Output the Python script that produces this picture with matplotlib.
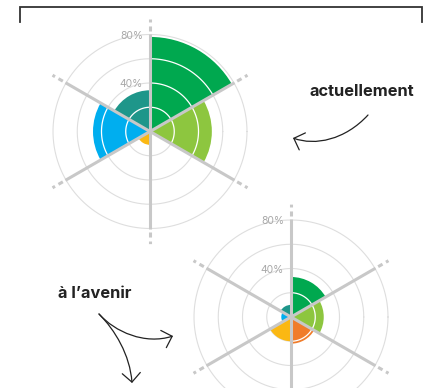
import numpy as np
import matplotlib
matplotlib.use("Agg")
import matplotlib.pyplot as plt
from matplotlib.patches import FancyArrowPatch
from matplotlib.path import Path

W, H = 430, 388

# six sectors, 60 degrees each (centre angle, counter-clockwise from east)
sector_mid_deg = [60, 0, -60, -120, 180, 120]
sector_colors = ["#00a84f", "#8dc63f", "#f07c2b", "#fbb813", "#00aeef", "#1e968a"]
now_values = [78, 51, 0, 11, 47, 34]
future_values = [33, 27, 22, 20, 8, 10]

ring_values = [20, 40, 60, 80]
ring_labels = ["", "40%", "", "80%"]
spoke_deg = [90, 30, -30, -90, -150, 150]

R_MAX = 93
PX_PER_PCT = 97 / 80
SECTOR_W = np.deg2rad(60)

GRID = "#dedede"
SPOKE = "#c8c8c8"
INK = "#222222"

plt.rcParams["font.family"] = ["Inter", "DejaVu Sans"]


def add_rose(fig, cx, cy, values):
    """Polar bar chart centred at pixel (cx, cy)."""
    r_px = R_MAX * PX_PER_PCT
    ax = fig.add_axes([(cx - r_px) / W, (H - cy - r_px) / H, 2 * r_px / W, 2 * r_px / H],
                      projection="polar")
    ax.set_ylim(0, R_MAX)
    ax.set_axis_off()

    theta = np.deg2rad(sector_mid_deg)
    ax.bar(theta, values, width=SECTOR_W, color=sector_colors, linewidth=0, zorder=2)

    circle = np.linspace(0, 2 * np.pi, 400)
    for rv, lab in zip(ring_values, ring_labels):
        ax.plot(circle, np.full_like(circle, rv), color=GRID, lw=0.8, zorder=1)
        # rings show white where they cross a filled sector
        for t, v in zip(theta, values):
            if v > rv:
                arc = np.linspace(t - SECTOR_W / 2, t + SECTOR_W / 2, 60)
                ax.plot(arc, np.full_like(arc, rv), color="white", lw=0.9, zorder=3)
        if lab:
            ax.annotate(lab, xy=(np.pi / 2, rv), xytext=(-5, -1), textcoords="offset points",
                        ha="right", va="center", fontsize=7.5, color="#a8a8a8", zorder=5)

    for a in np.deg2rad(spoke_deg):
        ax.plot([a, a], [0, 80.5], color=SPOKE, lw=2.2, solid_capstyle="butt", zorder=4)
        ax.plot([a, a], [83, R_MAX], color=SPOKE, lw=2.2, ls=(0, (1.65, 1.3)),
                dash_capstyle="butt", zorder=4)
    return ax


def curved_arrow(ax, pts):
    path = Path(pts, [Path.MOVETO, Path.CURVE4, Path.CURVE4, Path.CURVE4])
    arr = FancyArrowPatch(path=path, arrowstyle="->,head_length=0.65,head_width=0.65",
                          mutation_scale=10, color=INK, lw=0.9)
    ax.add_patch(arr)


fig = plt.figure(figsize=(W / 100, H / 100), dpi=100)

add_rose(fig, 150, 131.5, now_values)
add_rose(fig, 291, 317, future_values)

ov = fig.add_axes([0, 0, 1, 1])
ov.set_xlim(0, W)
ov.set_ylim(H, 0)
ov.set_axis_off()
ov.patch.set_alpha(0)

# bracket on top
ov.plot([19.5, 19.5, 421.7, 421.7], [22, 7, 7, 22], color="#333333", lw=1.3,
        solid_joinstyle="miter")

ov.text(362, 92, "actuellement", ha="center", va="center", fontsize=11.8,
        fontweight="bold", color=INK)
ov.text(95, 293, "à l\u2019avenir", ha="center", va="center", fontsize=11.8,
        fontweight="bold", color=INK)

curved_arrow(ov, [(368, 115), (345, 140), (315, 146), (293, 138)])
curved_arrow(ov, [(99, 314), (115, 332), (145, 345), (173, 336)])
curved_arrow(ov, [(99, 314), (115, 330), (130, 355), (132, 383)])

fig.savefig("out.png", dpi=100)
